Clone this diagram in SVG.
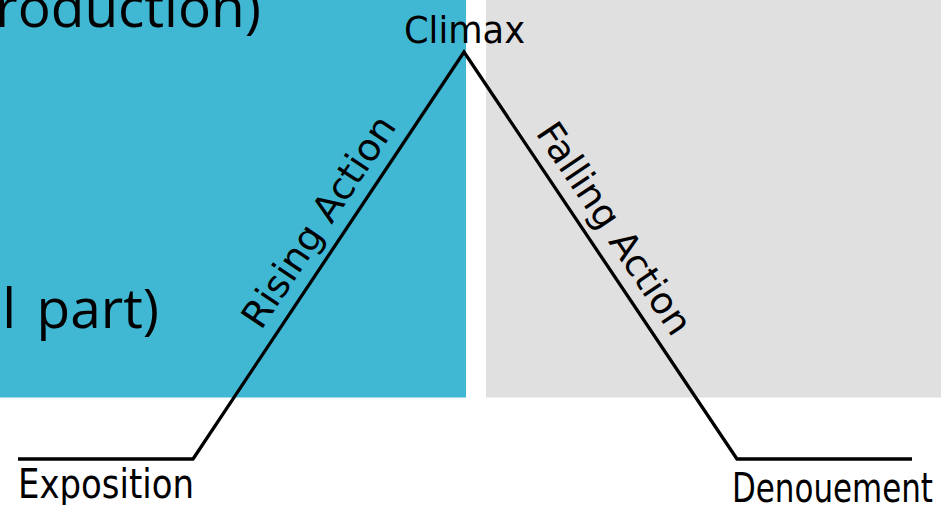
<svg xmlns="http://www.w3.org/2000/svg" width="941" height="505" viewBox="0 0 941 505">
  <style>
    .panel-text { font-family: "Open Sans", "Noto Sans", sans-serif; font-size: 55px; fill: #000; }
    .label { font-family: "DejaVu Sans Condensed", "DejaVu Sans", sans-serif; fill: #000; }
    .arc { fill: none; stroke: #000; stroke-width: 3.3; stroke-linejoin: miter; }
  </style>
  <rect width="941" height="505" fill="#ffffff"/>

  <!-- background panels -->
  <g id="panel-left">
    <rect x="0" y="0" width="466" height="397.5" fill="#40b8d4"/>
    <text class="panel-text" x="261" y="27" text-anchor="end">roduction)</text>
    <text class="panel-text" x="159" y="328" text-anchor="end" word-spacing="6">l part)</text>
  </g>
  <g id="panel-right">
    <rect x="486" y="0" width="455" height="397.5" fill="#e0e0e0"/>
  </g>

  <!-- plot line -->
  <g id="connectors">
    <polyline class="arc" points="18,459 193,459 464,52 737,459 912,459"/>
  </g>

  <g id="climax">
    <text class="label" x="404" y="43" font-size="38" textLength="121" lengthAdjust="spacingAndGlyphs">Climax</text>
  </g>
  <g id="exposition">
    <text class="label" x="18" y="498" font-size="41" textLength="176" lengthAdjust="spacingAndGlyphs">Exposition</text>
  </g>
  <g id="denouement">
    <text class="label" x="732" y="502" font-size="41" textLength="201" lengthAdjust="spacingAndGlyphs">Denouement</text>
  </g>
  <g id="rising-action">
    <text class="label" transform="translate(261,331) rotate(-56.34)" font-size="37" textLength="246" lengthAdjust="spacingAndGlyphs">Rising Action</text>
  </g>
  <g id="falling-action">
    <text class="label" transform="translate(535,133) rotate(56.15)" font-size="37" textLength="247" lengthAdjust="spacingAndGlyphs">Falling Action</text>
  </g>
</svg>
